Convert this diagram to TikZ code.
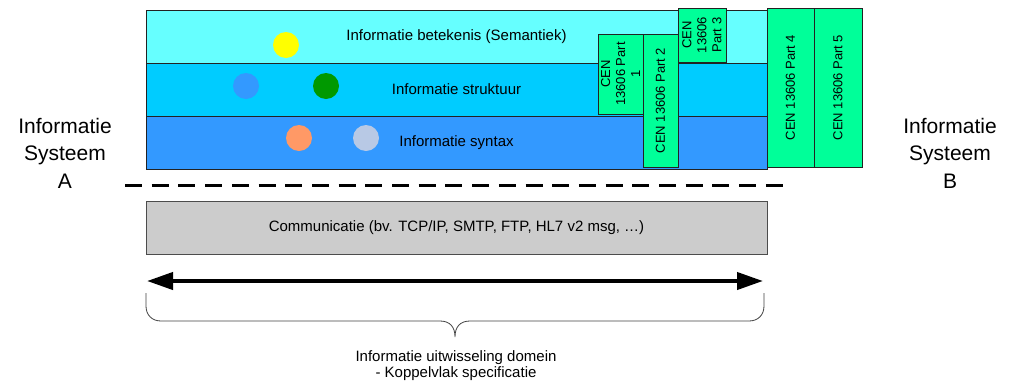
\documentclass[tikz,border=0pt]{standalone}
\usepackage{fontspec}
\setmainfont{Liberation Sans}
\usetikzlibrary{arrows.meta}
\definecolor{semantic}{HTML}{66FFFF}
\definecolor{structure}{HTML}{00CCFF}
\definecolor{syntax}{HTML}{3399FF}
\definecolor{cengreen}{HTML}{00FF99}
\definecolor{commgray}{HTML}{CCCCCC}
\definecolor{dotyellow}{HTML}{FFFF00}
\definecolor{dotblue}{HTML}{3399FF}
\definecolor{dotgreen}{HTML}{009900}
\definecolor{dotorange}{HTML}{FF9966}
\definecolor{dotpale}{HTML}{B8C9E5}
\definecolor{edge}{HTML}{222222}
\begin{document}
\begin{tikzpicture}[x=1pt,y=-1pt,
  layer/.style={draw=edge, line width=0.9pt, inner sep=0pt, minimum width=621pt,
    minimum height=53pt, font=\fontsize{15}{18}\selectfont},
  cenbox/.style={draw=edge, fill=cengreen, line width=0.9pt, inner sep=0pt, rotate=90,
    align=center, font=\fontsize{13}{15}\selectfont},
  dot/.style={circle, inner sep=0pt, minimum size=26pt},
  syslabel/.style={align=center, font=\fontsize{21}{27.5}\selectfont},
  caption/.style={font=\fontsize{15}{18}\selectfont}]
\useasboundingbox (0,0) rectangle (1010,389);

% protocol layers
\node[layer, fill=semantic]  (sem)  at (456.5,36.5)  {Informatie betekenis (Semantiek)};
\node[layer, fill=structure] (str)  at (456.5,89.5)  {Informatie struktuur};
\node[layer, fill=syntax]    (syn)  at (456.5,142.5) {Informatie syntax};

% coloured dots
\node[dot, fill=dotyellow] (d1) at (286,45) {};
\node[dot, fill=dotblue]   (d2) at (246,86) {};
\node[dot, fill=dotgreen]  (d3) at (326,86) {};
\node[dot, fill=dotorange] (d4) at (299,138) {};
\node[dot, fill=dotpale]   (d5) at (366,138) {};

% CEN 13606 parts
\node[cenbox, minimum width=80pt,  minimum height=45pt] (p1) at (620.5,74)   {CEN\\13606 Part\\1};
\node[cenbox, minimum width=133pt, minimum height=35pt] (p2) at (660.5,100.5) {CEN 13606 Part 2};
\node[cenbox, minimum width=54pt,  minimum height=48pt] (p3) at (702,35)     {CEN\\13606\\Part 3};
\node[cenbox, minimum width=159pt, minimum height=47pt] (p4) at (790.5,87.5) {CEN 13606 Part 4};
\node[cenbox, minimum width=159pt, minimum height=48pt] (p5) at (838,87.5)   {CEN 13606 Part 5};

% information systems on both sides
\node[syslabel] (sysA) at (65,153)  {Informatie\\Systeem\\A};
\node[syslabel] (sysB) at (950,153) {Informatie\\Systeem\\B};

% boundary line
\coordinate (dashL) at (125,185);
\coordinate (dashR) at (783,185);
\draw[line width=3pt, dash pattern=on 17pt off 9.7pt] (dashL) -- (dashR);

% communication layer
\node[layer, fill=commgray, draw=black!70] (comm) at (456.5,227.5)
  {Communicatie (bv. TCP/IP, SMTP, FTP, HL7 v2 msg, …)};

% exchange arrow
\coordinate (arrL) at (147,281);
\coordinate (arrR) at (763,281);
\draw[line width=4pt, {Triangle[length=26pt,width=17pt]}-{Triangle[length=26pt,width=17pt]}] (arrL) -- (arrR);

% brace over the exchange domain
\coordinate (brL) at (146,293);
\coordinate (brR) at (764,293);
\coordinate (brTip) at (455,337);
\draw[line width=0.8pt, black!75]
  (brL) -- (146,306) .. controls (146,315) and (152,321) .. (161,321)
  -- (440,321) .. controls (450,321) and (455,327) .. (brTip)
  .. controls (455,327) and (460,321) .. (470,321)
  -- (749,321) .. controls (758,321) and (764,315) .. (764,306) -- (brR);

% domain caption
\node[caption] (dom1) at (456,358) {Informatie uitwisseling domein};
\node[caption] (dom2) at (456,374) {- Koppelvlak specificatie};
\end{tikzpicture}
\end{document}
